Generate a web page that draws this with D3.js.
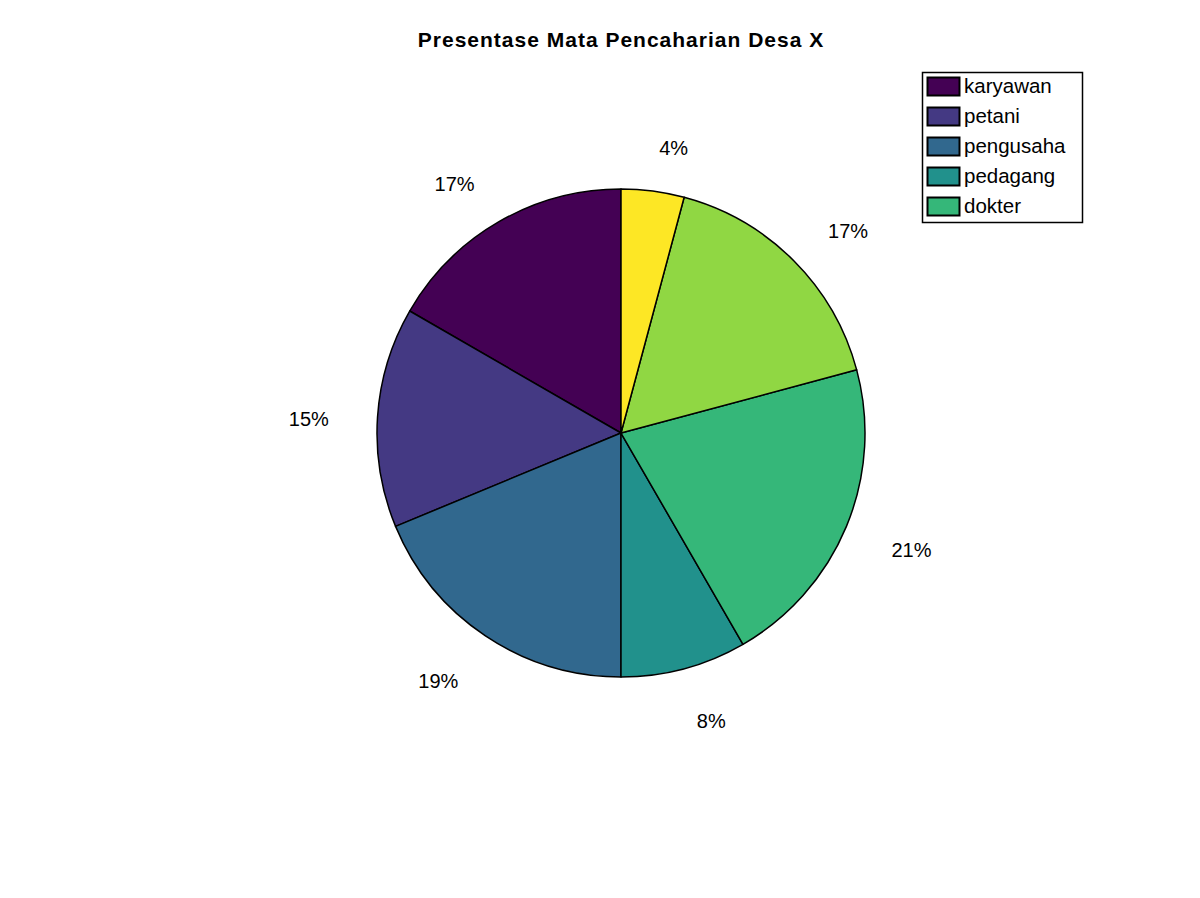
<!DOCTYPE html>
<html>
<head>
<meta charset="utf-8">
<script src="https://cdn.jsdelivr.net/npm/d3@7"></script>
<style>
  body { margin: 0; background: #fff; }
  text { font-family: "Liberation Sans", Arial, sans-serif; }
</style>
</head>
<body>
<div id="chart"></div>
<script>
// values (counts giving 17/15/19/8/21/17/4 %)
let values = [8, 7, 9, 4, 10, 8, 2]
let legendNames = ['karyawan', 'petani', 'pengusaha', 'pedagang', 'dokter']
let colors = ['#440154', '#443983', '#31688e', '#21918c', '#35b779', '#90d743', '#fde725']
let title = 'Presentase Mata Pencaharian Desa X'

let width = 1200
let height = 898
let cx = 621
let cy = 433
let radius = 244

let svg = d3
  .select('#chart')
  .append('svg')
  .attr('width', width)
  .attr('height', height)

svg
  .append('text')
  .attr('x', cx)
  .attr('y', 47)
  .attr('text-anchor', 'middle')
  .style('font-size', '21px')
  .style('letter-spacing', '1px')
  .style('font-weight', 'bold')
  .text(title)

let total = d3.sum(values)

/* counterclockwise from 12 o'clock, like Octave */
let pie = d3
  .pie()
  .sort(null)
  .startAngle(0)
  .endAngle(-2 * Math.PI)

let arcs = pie(values)

let arc = d3.arc().innerRadius(0).outerRadius(radius)
let labelArc = d3.arc().innerRadius(radius * 1.2).outerRadius(radius * 1.2)

let g = svg.append('g').attr('transform', `translate(${cx}, ${cy})`)

g.selectAll('path')
  .data(arcs)
  .enter()
  .append('path')
  .attr('d', arc)
  .attr('fill', (d, i) => colors[i])
  .attr('stroke', '#000')
  .attr('stroke-width', 1.5)
  .attr('stroke-linejoin', 'round')

g.selectAll('.label')
  .data(arcs)
  .enter()
  .append('text')
  .attr('class', 'label')
  .attr('x', d => labelArc.centroid(d)[0])
  .attr('y', d => labelArc.centroid(d)[1] + 12)
  .attr('text-anchor', d => (labelArc.centroid(d)[0] > 0 ? 'start' : 'end'))
  .style('font-size', '20px')
  .text(d => Math.round((d.value / total) * 100) + '%')

/* legend */
let lx = 922
let ly = 72
let rowH = 30

let legend = svg.append('g')

legend
  .append('rect')
  .attr('x', lx + 0.5)
  .attr('y', ly + 0.5)
  .attr('width', 160)
  .attr('height', 150)
  .attr('fill', '#fff')
  .attr('stroke', '#000')
  .attr('stroke-width', 1.5)

let rows = legend
  .selectAll('.row')
  .data(legendNames)
  .enter()
  .append('g')
  .attr('class', 'row')
  .attr('transform', (d, i) => `translate(${lx}, ${ly + 5 + i * rowH})`)

rows
  .append('rect')
  .attr('x', 5.5)
  .attr('y', 0.5)
  .attr('width', 32)
  .attr('height', 18)
  .attr('fill', (d, i) => colors[i])
  .attr('stroke', '#000')
  .attr('stroke-width', 2)

rows
  .append('text')
  .attr('x', 42)
  .attr('y', 16)
  .style('font-size', '20.5px')
  .text(d => d)
</script>
</body>
</html>
